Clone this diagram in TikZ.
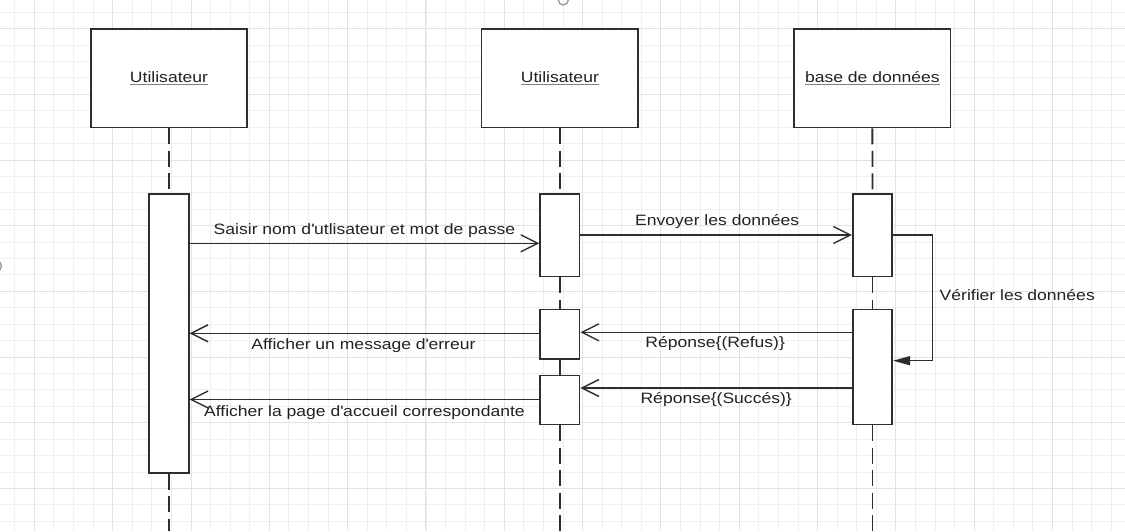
\documentclass[tikz,border=0pt]{standalone}
\usepackage{fontspec}
\setmainfont[FakeStretch=1.17]{Liberation Sans}
\usetikzlibrary{arrows.meta}
\definecolor{ln}{HTML}{2E2E2E}
\definecolor{txt}{HTML}{222222}
\definecolor{gmin}{HTML}{EFEFEF}
\definecolor{gmaj}{HTML}{E2E2E2}
\newcommand\headlbl[1]{{\color{gray}\underline{\textcolor{txt}{#1}}}}
\begin{document}
\begin{tikzpicture}[x=1pt,y=-1pt,
  font=\fontsize{15}{18}\selectfont, text=txt,
  headbox/.style={draw=ln, line width=1.6pt, fill=white, minimum width=156.5pt, minimum height=98.5pt, inner sep=0pt},
  actbar/.style={draw=ln, line width=1.6pt, fill=white, minimum width=39.5pt, inner sep=0pt},
  lifeline/.style={draw=ln, line width=1.8pt, dash pattern=on 16pt off 6.5pt},
  msg/.style={draw=ln, line width=1.4pt, -{Straight Barb[length=17pt,width=17pt]}},
  selfmsg/.style={draw=ln, line width=1.4pt, -{Triangle[length=17pt,width=9pt]}},
  lbl/.style={anchor=base, inner sep=0pt, text=txt}]
\useasboundingbox (0,0) rectangle (1125,531);
\fill[white] (0,0) rectangle (1125,531);
% grid
\foreach \i in {0,...,56} \draw[gmin, line width=1pt] ({14.82+19.58*\i},0) -- ++(0,531);
\foreach \j in {0,...,31} \draw[gmin, line width=1pt] (0,{12.175+16.425*\j}) -- ++(1125,0);
\foreach \i in {0,...,13} \draw[gmaj, line width=1pt] ({34.4+78.3*\i},0) -- ++(0,531);
\foreach \j in {0,...,7} \draw[gmaj, line width=1pt] (0,{28.6+65.7*\j}) -- ++(1125,0);
% small artifacts
\draw[gray!80, line width=1.4pt] (563.3,0) circle[radius=5];
\draw[gray!80, line width=1.4pt] (-3.5,266) circle[radius=5];
% heads
\node[headbox] (h1) at (169,78.35) {\headlbl{Utilisateur}};
\node[headbox] (h2) at (559.85,78.35) {\headlbl{Utilisateur}};
\node[headbox] (h3) at (872.35,78.35) {\headlbl{base de données}};
% activation bars
\node[actbar, minimum height=279pt] (a1) at (169,333.5) {};
\node[actbar, minimum height=82.3pt] (a2) at (559.85,235.15) {};
\node[actbar, minimum height=82.3pt] (a3) at (872.5,235.15) {};
\node[actbar, minimum height=49.4pt] (a4) at (559.85,334) {};
\node[actbar, minimum height=49pt] (a5) at (559.85,399.8) {};
\node[actbar, minimum height=115pt] (a6) at (872.5,366.8) {};
% lifeline ends
\coordinate (e1) at (169,531);
\coordinate (e2) at (559.85,531);
\coordinate (e3) at (872.5,531);
\draw[lifeline] (h1.south) -- (a1.north);
\draw[lifeline] (a1.south) -- (e1);
\draw[lifeline] (h2.south) -- (a2.north);
\draw[lifeline] (a2.south) -- (a4.north);
\draw[lifeline] (a4.south) -- (a5.north);
\draw[lifeline] (a5.south) -- (e2);
\draw[lifeline] (h3.south) -- (a3.north);
\draw[lifeline] (a3.south) -- (a6.north);
\draw[lifeline] (a6.south) -- (e3);
% message levels
\coordinate (y1) at (0,243.3);
\coordinate (y2) at (0,235);
\coordinate (y3) at (0,360.7);
\coordinate (y4) at (0,332.3);
\coordinate (y5) at (0,388);
\coordinate (y6) at (0,333.3);
\coordinate (y7) at (0,399.5);
\coordinate (sx) at (932.3,300);
% messages
\draw[msg] (a1.east |- y1) -- node[lbl, yshift=9.3pt]{Saisir nom d\textquotesingle utlisateur et mot de passe} (a2.west |- y1);
\draw[msg] (a2.east |- y2) -- node[lbl, yshift=9.3pt, xshift=1pt]{Envoyer les données} (a3.west |- y2);
\draw[selfmsg] (a3.east |- y2) -| (sx) |- (a6.east |- y3);
\node[lbl, anchor=base west] (vl) at (939.5,300.7) {Vérifier les données};
\draw[msg] (a6.west |- y4) -- node[lbl, yshift=-15.4pt, xshift=-1pt]{Réponse\{(Refus)\}} (a4.east |- y4);
\draw[msg] (a6.west |- y5) -- node[lbl, yshift=-15.3pt]{Réponse\{(Succés)\}} (a5.east |- y5);
\draw[msg] (a4.west |- y6) -- node[lbl, yshift=-16pt, xshift=-1pt]{Afficher un message d\textquotesingle erreur} (a1.east |- y6);
\draw[msg] (a5.west |- y7) -- node[lbl, yshift=-16.5pt]{Afficher la page d\textquotesingle accueil correspondante} (a1.east |- y7);
\end{tikzpicture}
\end{document}
